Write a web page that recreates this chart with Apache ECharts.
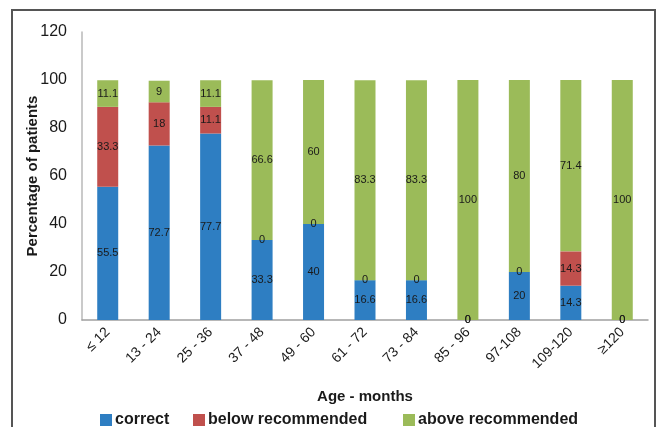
<!DOCTYPE html>
<html>
<head>
<meta charset="utf-8">
<script src="https://cdn.jsdelivr.net/npm/echarts@6/dist/echarts.min.js"></script>
<style>
html, body { margin: 0; padding: 0; background: #fff; }
#chart { width: 661px; height: 427px; }
</style>
</head>
<body>
<div id="chart"></div>
<script>
// age groups and percentages per group
const categories = ['≤ 12', '13 - 24', '25 - 36', '37 - 48', '49 - 60', '61 - 72', '73 - 84', '85 - 96', '97-108', '109-120', '≥120'];
const correct = [55.5, 72.7, 77.7, 33.3, 40, 16.6, 16.6, 0, 20, 14.3, 0];
const below = [33.3, 18, 11.1, 0, 0, 0, 0, 0, 0, 14.3, 0];
const above = [11.1, 9, 11.1, 66.6, 60, 83.3, 83.3, 100, 80, 71.4, 100];
const yTicks = [0, 20, 40, 60, 80, 100, 120];

const font = 'Liberation Sans, Arial, sans-serif';

function barSeries(name, data, color) {
    return {
        name: name,
        type: 'bar',
        stack: 'total',
        data: data,
        barWidth: 21,
        itemStyle: { color: color },
        label: {
            show: true,
            position: 'inside',
            color: '#1a1a1a',
            fontSize: 11,
            fontFamily: font
        }
    };
}

// one legend per item so each can sit where Excel put it
function legendAt(name, left) {
    return {
        data: [name],
        left: left,
        top: 407,
        itemWidth: 12,
        itemHeight: 12,
        itemGap: 0,
        icon: 'rect',
        textStyle: { fontSize: 16, fontWeight: 'bold', color: '#1a1a1a', fontFamily: font, padding: [0, 0, 0, -2] }
    };
}

let chart = echarts.init(document.getElementById('chart'));
let option = {
    backgroundColor: '#fff',
    animation: false,
    graphic: [{
        type: 'rect',
        shape: { x: 12, y: 10, width: 643, height: 440 },
        style: { fill: 'none', stroke: '#555', lineWidth: 2 },
        silent: true
    }],
    legend: [
        legendAt('correct', 95),
        legendAt('below recommended', 188),
        legendAt('above recommended', 398)
    ],
    grid: { left: 82, right: 13, top: 32, bottom: 107 },
    xAxis: {
        type: 'category',
        data: categories,
        name: 'Age - months',
        nameLocation: 'middle',
        nameGap: 69,
        nameMoveOverlap: false,
        nameTextStyle: { fontSize: 15, fontWeight: 'bold', color: '#1a1a1a', fontFamily: font },
        axisLine: { lineStyle: { color: '#a0a0a0', width: 1.5 } },
        axisTick: { show: false },
        axisLabel: {
            rotate: 45,
            margin: 10,
            interval: 0,
            fontSize: 14,
            color: '#1a1a1a',
            fontFamily: font
        }
    },
    yAxis: {
        type: 'value',
        min: 0,
        max: yTicks[yTicks.length - 1],
        interval: 20,
        name: 'Percentage of patients',
        nameLocation: 'middle',
        nameGap: 42,
        nameMoveOverlap: false,
        nameTextStyle: { fontSize: 15, fontWeight: 'bold', color: '#1a1a1a', fontFamily: font },
        axisLine: { show: true, lineStyle: { color: '#b8b8b8', width: 1.5 } },
        axisTick: { show: false },
        splitLine: { show: false },
        axisLabel: {
            margin: 15,
            fontSize: 16,
            color: '#1a1a1a',
            fontFamily: font,
            formatter: function (v) { return yTicks.indexOf(v) >= 0 ? String(v) : ''; }
        }
    },
    series: [
        barSeries('correct', correct, '#2e7ec2'),
        barSeries('below recommended', below, '#c0504d'),
        barSeries('above recommended', above, '#9bbb59')
    ]
};
chart.setOption(option);
</script>
</body>
</html>
